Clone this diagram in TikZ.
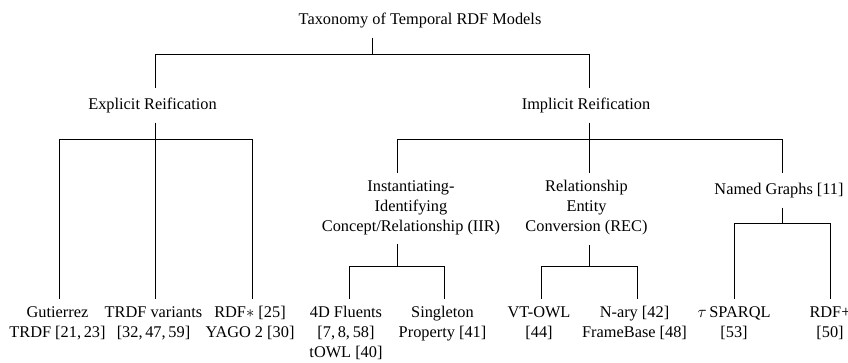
\documentclass[tikz,border=0pt]{standalone}
\usepackage{fontspec}
\setmainfont{Liberation Serif}
\begin{document}
\begin{tikzpicture}[x=0.6pt,y=-0.6pt,
  lbl/.style={font=\fontsize{9.8}{12}\selectfont, align=center,
    inner xsep=0pt, inner ysep=4.2pt, anchor=north,
    execute at begin node=\strut, execute at end node=\strut},
  link/.style={draw=black, line width=0.55pt}]
\useasboundingbox (0,0) rectangle (848,362);

% ---- labels ----
\node[lbl] (root)  at (420,3)   {Taxonomy of Temporal RDF Models};
\node[lbl] (expl)  at (152.5,88) {Explicit Reification};
\node[lbl] (impl)  at (586,88)   {Implicit Reification};

\node[lbl] (iir)   at (411,173)   {Instantiating-\\Identifying\\Concept/Relationship (IIR)};
\node[lbl] (rec)   at (586.5,173) {Relationship\\Entity\\Conversion (REC)};
\node[lbl] (ng)    at (779,173)   {Named Graphs [11]};

\node[lbl] (gut)   at (57.5,299)  {Gutierrez\\TRDF [21,\,23]};
\node[lbl] (trdfv) at (153.5,299) {TRDF variants\\{}[32,\,47,\,59]};
\node[lbl] (rdfs)  at (250,299)   {RDF$\ast$ [25]\\YAGO 2 [30]};
\node[lbl] (fl)    at (346,299)   {4D Fluents\\{}[7,\,8,\,58]\\tOWL [40]};
\node[lbl] (sing)  at (442.5,299) {Singleton\\Property [41]};
\node[lbl] (vt)    at (539,299)   {VT-OWL\\{}[44]};
\node[lbl] (nary)  at (634.5,299) {N-ary [42]\\FrameBase [48]};
\node[lbl] (tsp)   at (734,299)   {$\tau$\,SPARQL\\{}[53]};
\node[lbl] (rplus) at (830,299)   {RDF+\\{}[50]};

% ---- fork joints (bar height and stub positions) ----
\coordinate (f0)  at (372,54);
\coordinate (f0a) at (155,54);
\coordinate (f0b) at (589,54);

\coordinate (f1)  at (155,139);
\coordinate (f1a) at (59,139);
\coordinate (f1c) at (252,139);

\coordinate (f2)  at (589,139);
\coordinate (f2a) at (397,139);
\coordinate (f2c) at (782,139);

\coordinate (f3)  at (397,266);
\coordinate (f3a) at (349,266);
\coordinate (f3b) at (444,266);

\coordinate (f4)  at (589,266);
\coordinate (f4a) at (541,266);
\coordinate (f4b) at (637,266);

\coordinate (f5)  at (782,223);
\coordinate (f5a) at (734,223);
\coordinate (f5b) at (830,223);

% ---- connectors ----
% root
\draw[link] (root.south -| f0) -- (f0);
\draw[link] (expl.north -| f0a) -- (f0a) -- (f0b) -- (impl.north -| f0b);

% explicit reification
\draw[link] (expl.south -| f1) -- (f1);
\draw[link] (gut.north -| f1a) -- (f1a) -- (f1c) -- (rdfs.north -| f1c);
\draw[link] (trdfv.north -| f1) -- (f1);

% implicit reification
\draw[link] (impl.south -| f2) -- (f2);
\draw[link] (iir.north -| f2a) -- (f2a) -- (f2c) -- (ng.north -| f2c);
\draw[link] (rec.north -| f2) -- (f2);

% IIR
\draw[link] (iir.south -| f3) -- (f3);
\draw[link] (fl.north -| f3a) -- (f3a) -- (f3b) -- (sing.north -| f3b);

% REC
\draw[link] (rec.south -| f4) -- (f4);
\draw[link] (vt.north -| f4a) -- (f4a) -- (f4b) -- (nary.north -| f4b);

% named graphs
\draw[link] (ng.south -| f5) -- (f5);
\draw[link] (tsp.north -| f5a) -- (f5a) -- (f5b) -- (rplus.north -| f5b);
\end{tikzpicture}
\end{document}
